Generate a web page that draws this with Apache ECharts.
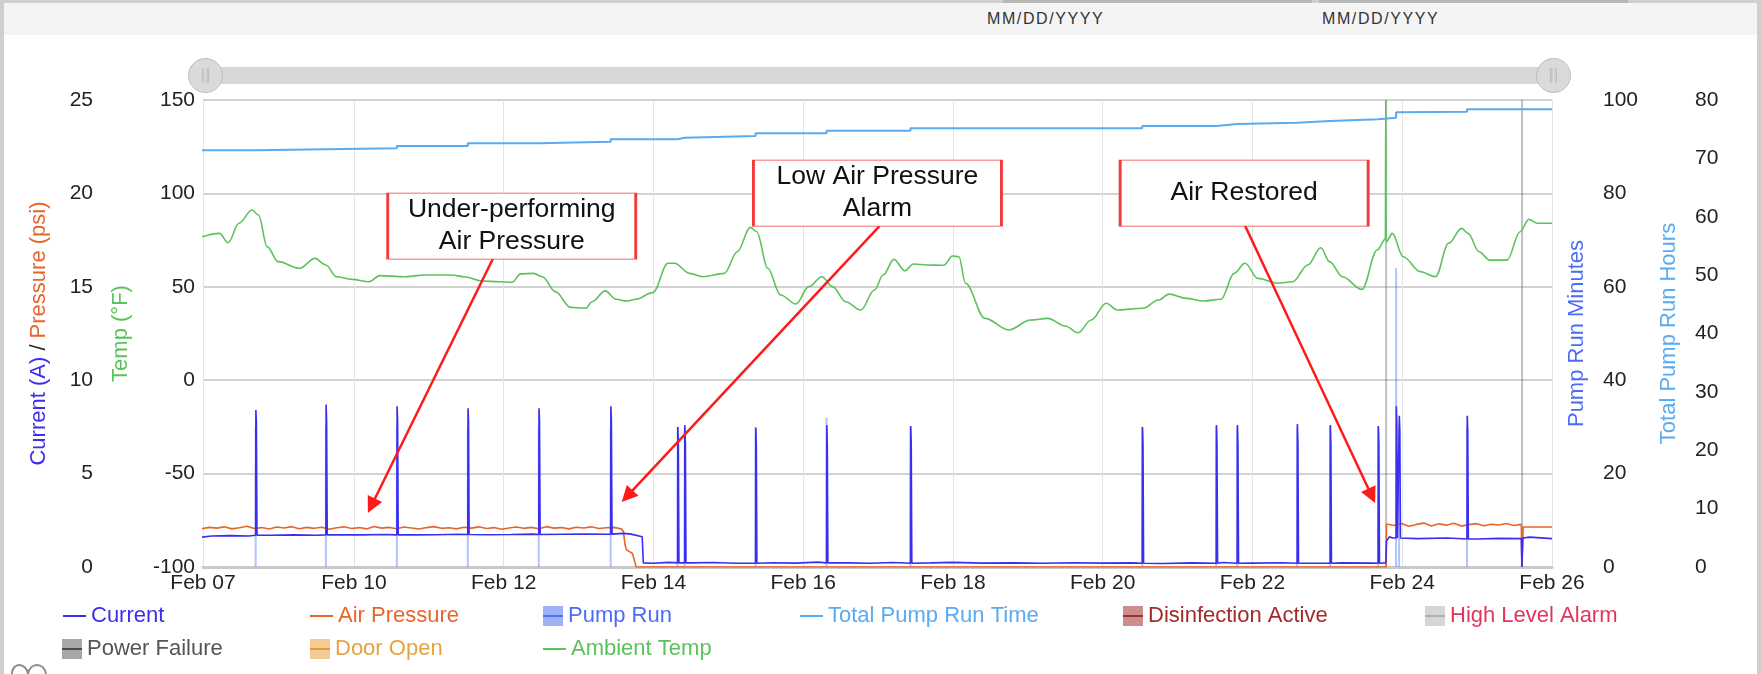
<!DOCTYPE html>
<html>
<head>
<meta charset="utf-8">
<script src="https://cdn.jsdelivr.net/npm/echarts@6/dist/echarts.min.js"></script>
<style>
html,body{margin:0;padding:0;background:#fff;width:1761px;height:674px;overflow:hidden;font-family:'Liberation Sans',Arial,sans-serif;}
#topband{position:absolute;left:0;top:0;width:1761px;height:35px;background:#f4f4f4;}
#bt{position:absolute;left:0;top:0;width:1761px;height:3px;background:#cfcfcf;}
#bl{position:absolute;left:0;top:0;width:4px;height:674px;background:#cfcfcf;}
#br{position:absolute;right:0;top:0;width:4px;height:674px;background:#cfcfcf;}
.inp{position:absolute;top:0;height:3px;background:#b8b8b8;}
.dt{position:absolute;top:10px;font-size:16px;color:#333;letter-spacing:1.6px;}
#logo{position:absolute;left:6px;top:658px;}
#chart{position:absolute;left:0;top:0;width:1761px;height:674px;}
</style>
</head>
<body>
<div id="topband"></div>
<div id="bt"></div>
<div class="inp" style="left:1003px;width:309px;"></div>
<div class="inp" style="left:1319px;width:309px;"></div>
<div class="dt" style="left:987px;">MM/DD/YYYY</div>
<div class="dt" style="left:1322px;">MM/DD/YYYY</div>
<div id="bl"></div>
<div id="br"></div>
<svg id="logo" width="50" height="16"><path d="M6,16 C6,4 20,4 22,16 M22,16 C24,4 38,4 40,16" fill="none" stroke="#8a8a8a" stroke-width="2"/></svg>
<div id="chart"></div>
<script>
// ---------- DATA (times are day-of-February, 2025) ----------
const xTickDays = [7.985, 10, 12, 14, 16, 18, 20, 22, 24, 26];

// pump run events: [day, currentPeak(A), currentShoulder(A), currentBase(A), pumpRunMinutes, totalHoursAfter]
const pumpEvents = [
  [8.688, 8.4, 7.8, 1.70, 30, 71.55],
  [9.626, 8.7, 7.8, 1.72, 30, 71.72],
  [10.574, 8.6, 7.8, 1.72, 30, 72.12],
  [11.521, 8.5, 7.8, 1.74, 30, 72.58],
  [12.469, 8.5, 7.8, 1.74, 30, 72.86],
  [13.429, 8.6, 7.8, 1.76, 30, 73.27],
  [14.323, 7.5, 6.6, 0.22, 30, 73.55],
  [14.417, 7.6, 6.6, 0.22, 30, 73.84],
  [15.364, 7.45, 6.6, 0.20, 30, 74.29],
  [16.312, 7.6, 6.6, 0.22, 32, 74.72],
  [17.433, 7.55, 6.6, 0.20, 30, 75.15],
  [20.528, 7.5, 6.6, 0.20, 30, 75.55],
  [21.516, 7.6, 6.6, 0.20, 30, 75.89],
  [21.796, 7.6, 6.6, 0.20, 30, 76.12],
  [22.597, 7.65, 6.6, 0.20, 30, 76.40],
  [23.037, 7.6, 6.6, 0.20, 30, 76.69],
  [23.678, 7.55, 6.6, 0.20, 30, 76.97],
  [23.918, 8.6, 7.6, 1.55, 64, 77.90],
  [23.958, 8.1, 7.3, 1.55, 30, 78.00],
  [24.865, 8.1, 7.3, 1.50, 30, 78.40]
];

const totalStart = [7.97, 71.40];
const totalEnd = [26.0, 78.40];

const currentBaseline = [
  [7.97,1.60],[8.10,1.66],[8.35,1.68],[8.60,1.66],[8.90,1.70],[9.20,1.72],[9.50,1.70],[9.80,1.73],
  [10.10,1.72],[10.40,1.74],[10.80,1.72],[11.10,1.73],[11.40,1.75],[11.80,1.73],[12.10,1.74],[12.40,1.76],
  [12.80,1.75],[13.10,1.76],[13.40,1.75],[13.60,1.80],[13.70,1.76],[13.85,1.62],[13.865,0.22],[14.0,0.20],
  [14.2,0.25],[14.5,0.22],[14.8,0.24],[15.1,0.20],[15.6,0.23],[15.9,0.21],[16.2,0.26],[16.6,0.22],
  [16.9,0.20],[17.2,0.24],[17.7,0.22],[18.0,0.25],[18.4,0.21],[18.8,0.22],[19.2,0.20],[19.6,0.23],
  [20.0,0.21],[20.4,0.22],[20.8,0.19],[21.2,0.22],[21.6,0.24],[22.0,0.21],[22.4,0.23],[22.8,0.20],
  [23.2,0.22],[23.6,0.21],[23.78,0.22],[23.79,1.40],[23.83,1.62],[23.87,1.55],[24.2,1.52],[24.6,1.55],
  [25.0,1.50],[25.3,1.53],[25.59,1.52],[25.598,0.0],[25.61,1.55],[25.7,1.60],[26.0,1.52]
];

const airPressure = [
  [7.97,2.05],[8.07,2.12],[8.17,2.08],[8.27,2.15],[8.37,2.04],[8.47,2.10],[8.57,2.18],[8.67,2.06],
  [8.77,2.11],[8.87,2.03],[8.97,2.14],[9.07,2.09],[9.17,2.16],[9.27,2.05],[9.37,2.12],[9.47,2.07],
  [9.57,2.13],[9.67,2.02],[9.77,2.10],[9.87,2.15],[9.97,2.06],[10.07,2.11],[10.17,2.04],[10.27,2.17],
  [10.37,2.08],[10.47,2.12],[10.57,2.05],[10.67,2.14],[10.77,2.09],[10.87,2.03],[10.97,2.11],[11.07,2.16],
  [11.17,2.07],[11.27,2.10],[11.37,2.04],[11.47,2.13],[11.57,2.08],[11.67,2.15],[11.77,2.06],[11.87,2.11],
  [11.97,2.02],[12.07,2.09],[12.17,2.14],[12.27,2.07],[12.37,2.12],[12.47,2.05],[12.57,2.16],[12.67,2.08],
  [12.77,2.11],[12.87,2.04],[12.97,2.13],[13.07,2.09],[13.17,2.15],[13.27,2.06],[13.37,2.10],[13.47,2.12],
  [13.57,2.04],[13.60,1.90],[13.62,1.20],[13.64,0.92],[13.68,0.82],[13.72,0.72],[13.75,0.30],[13.77,0.0],
  [23.785,0.0],[23.79,2.30],[23.89,2.22],[23.99,2.33],[24.09,2.18],[24.19,2.28],[24.29,2.35],[24.39,2.20],
  [24.49,2.31],[24.59,2.24],[24.69,2.34],[24.79,2.19],[24.89,2.27],[24.99,2.32],[25.09,2.21],[25.19,2.29],
  [25.29,2.25],[25.39,2.33],[25.49,2.22],[25.59,2.28],[25.598,0.0],[25.615,2.14],[26.0,2.14]
];

const ambientTemp = [
  [7.974,76.8],[8.205,78.6],[8.321,73.6],[8.465,84.0],[8.639,91.1],[8.726,88.4],[8.842,71.5],[8.987,63.5],
  [9.275,59.9],[9.478,65.2],[9.624,61.7],[9.768,55.4],[9.971,54.0],[10.202,52.7],[10.347,56.0],[10.665,55.4],
  [10.954,56.3],[11.301,56.3],[11.475,55.4],[11.707,53.1],[11.938,52.7],[12.111,52.4],[12.227,56.9],[12.401,57.2],
  [12.517,55.4],[12.690,47.4],[12.893,39.0],[13.096,38.5],[13.181,42.0],[13.356,47.8],[13.500,43.3],[13.644,42.4],
  [13.760,43.3],[13.993,46.9],[14.194,62.6],[14.281,62.6],[14.484,57.2],[14.657,55.4],[14.947,57.2],[15.120,68.8],
  [15.294,81.8],[15.380,79.5],[15.526,59.9],[15.699,45.6],[15.902,40.8],[16.076,50.1],[16.249,55.4],[16.393,50.1],
  [16.567,42.0],[16.769,37.6],[16.952,48.3],[17.068,56.3],[17.212,64.7],[17.357,58.6],[17.473,62.2],[17.646,61.7],
  [17.878,61.5],[17.994,66.5],[18.080,66.1],[18.167,51.9],[18.428,33.1],[18.746,26.9],[19.035,32.2],[19.267,33.1],
  [19.498,29.0],[19.672,25.4],[19.845,32.2],[20.048,41.2],[20.193,37.6],[20.540,38.5],[20.742,42.9],[20.887,46.1],
  [21.118,43.8],[21.350,42.4],[21.581,43.3],[21.755,57.2],[21.900,62.6],[22.073,54.5],[22.334,51.9],[22.536,52.7],
  [22.739,61.7],[22.912,70.9],[23.028,63.5],[23.202,55.4],[23.462,48.6],[23.665,69.7],[23.775,75.5],[23.780,150.0],
  [23.785,74.0],[23.867,78.6],[24.012,66.1],[24.243,58.1],[24.445,55.4],[24.619,73.3],[24.793,81.3],[24.880,78.6],
  [25.024,68.8],[25.169,64.3],[25.400,64.3],[25.574,79.5],[25.690,86.1],[25.806,84.0],[26.0,84.0]
];

const powerFailure = [[23.785, 1], [25.600, 1]];

// annotation text boxes and arrows, anchored in data space (day, amps)
const annotationBoxes = [
  {text: 'Under-performing\nAir Pressure', day: 12.108, val: 18.25},
  {text: 'Low Air Pressure\nAlarm', day: 16.992, val: 20.02},
  {text: 'Air Restored', day: 21.889, val: 20.02}
];
const annotationArrows = [
  {from: [11.855, 16.49], to: [10.234, 3.28]},
  {from: [17.019, 18.25], to: [13.650, 3.79]},
  {from: [21.903, 18.25], to: [23.592, 3.81]}
];

// ---------- helpers ----------
const MONTH0 = Date.UTC(2025, 1, 1);
const T = d => MONTH0 + (d - 1) * 86400000;
const MON = ['Jan','Feb','Mar','Apr','May','Jun','Jul','Aug','Sep','Oct','Nov','Dec'];
const FONT = "'Liberation Sans', Arial, sans-serif";

const C = {
  current: '#3b2ef0', pressure: '#e8652a', pump: '#4f72f5', total: '#5aaaf0',
  temp: '#5cc25c', dis: '#a3302f', high: '#e2355a', power: '#555555', door: '#e9a23f'
};

let currentPts = currentBaseline.map(p => [p[0], p[1]]);
pumpEvents.forEach(e => {
  currentPts.push([e[0], e[3]], [e[0] + 0.003, e[1]], [e[0] + 0.010, e[2]], [e[0] + 0.018, e[3]]);
});
currentPts.sort((a, b) => a[0] - b[0]);
const currentData = currentPts.map(p => [T(p[0]), p[1]]);
const pressureData = airPressure.map(p => [T(p[0]), p[1]]);
const tempData = ambientTemp.map(p => [T(p[0]), p[1]]);
const pumpData = pumpEvents.map(e => [T(e[0]), e[4]]);
const totalData = [[T(totalStart[0]), totalStart[1]]]
  .concat(pumpEvents.map(e => [T(e[0]), e[5]]))
  .concat([[T(totalEnd[0]), totalEnd[1]]]);
const powerData = powerFailure.map(p => [T(p[0]), p[1]]);
const xTicks = xTickDays.map(T);

const ROW1 = 605, ROW2 = 638;
const legendDefs = [
  {name: 'Current', kind: 'line', color: C.current, text: C.current, left: 63, top: ROW1},
  {name: 'Air Pressure', kind: 'line', color: C.pressure, text: C.pressure, left: 310, top: ROW1},
  {name: 'Pump Run', kind: 'box', color: 'rgba(79,114,245,0.55)', line: '#4f72f5', text: '#4a6cf7', left: 543, top: ROW1},
  {name: 'Total Pump Run Time', kind: 'line', color: C.total, text: C.total, left: 800, top: ROW1},
  {name: 'Disinfection Active', kind: 'box', color: 'rgba(163,48,47,0.55)', line: '#a3302f', text: '#a32a2a', left: 1123, top: ROW1},
  {name: 'High Level Alarm', kind: 'box', color: 'rgba(200,200,200,0.75)', line: '#b0b0b0', text: C.high, left: 1425, top: ROW1},
  {name: 'Power Failure', kind: 'box', color: 'rgba(110,110,110,0.6)', line: '#4a4a4a', text: '#555', left: 62, top: ROW2},
  {name: 'Door Open', kind: 'box', color: 'rgba(236,168,80,0.6)', line: '#e39a37', text: C.door, left: 310, top: ROW2},
  {name: 'Ambient Temp', kind: 'line', color: C.temp, text: C.temp, left: 543, top: ROW2}
];
const legends = [];
legendDefs.forEach(d => {
  const base = {
    left: d.left, top: d.top, padding: 0, orient: 'horizontal', selectedMode: false,
    textStyle: {color: d.text, fontSize: 22, fontFamily: FONT}
  };
  if (d.kind === 'line') {
    legends.push(Object.assign({}, base, {
      itemWidth: 23, itemHeight: 2,
      data: [{name: d.name, icon: 'rect', itemStyle: {color: d.color, borderWidth: 0}}]
    }));
  } else {
    legends.push(Object.assign({}, base, {
      itemWidth: 20, itemHeight: 20,
      data: [{name: d.name, icon: 'rect', itemStyle: {color: d.color, borderWidth: 0}}]
    }));
    legends.push(Object.assign({}, base, {
      itemWidth: 20, itemHeight: 2,
      textStyle: {color: 'rgba(0,0,0,0)', fontSize: 22, fontFamily: FONT},
      data: [{name: d.name, icon: 'rect', itemStyle: {color: d.line, borderWidth: 0}}]
    }));
  }
});

const chart = echarts.init(document.getElementById('chart'), null, {renderer: 'canvas'});
const labelStyle = {color: '#222', fontSize: 21, fontFamily: FONT};

const option = {
  animation: false,
  backgroundColor: 'transparent',
  textStyle: {fontFamily: FONT},
  grid: {left: 203, right: 209, top: 100, bottom: 107, containLabel: false, outerBoundsMode: 'none'},
  legend: legends,
  dataZoom: [{
    type: 'slider', xAxisIndex: 0, filterMode: 'none', start: 0, end: 100,
    left: 203, right: 208, top: 67, height: 17,
    showDetail: false, showDataShadow: false, brushSelect: false, moveHandleSize: 0,
    backgroundColor: '#d8d8d8', fillerColor: '#d8d8d8', borderColor: 'transparent', borderRadius: 8,
    dataBackground: {lineStyle: {opacity: 0}, areaStyle: {opacity: 0}},
    selectedDataBackground: {lineStyle: {opacity: 0}, areaStyle: {opacity: 0}},
    handleIcon: 'path://M0,-50 A50,50 0 1 1 0,50 A50,50 0 1 1 0,-50 Z M-9,-20 L-9,20 L-5,20 L-5,-20 Z M5,-20 L5,20 L9,20 L9,-20 Z',
    handleSize: '200%',
    handleStyle: {color: '#dadada', borderColor: '#bdbdbd', borderWidth: 1},
    emphasis: {handleStyle: {color: '#dadada', borderColor: '#bdbdbd'}}
  }],
  xAxis: {
    type: 'value', min: T(xTickDays[0]), max: T(xTickDays[xTickDays.length - 1]),
    axisLine: {show: true, lineStyle: {color: '#c9c9c9', width: 3}},
    axisTick: {show: false, customValues: xTicks},
    axisLabel: Object.assign({}, labelStyle, {
      margin: 6, customValues: xTicks, showMinLabel: true, showMaxLabel: true, hideOverlap: false,
      formatter: v => { const d = new Date(v); return MON[d.getUTCMonth()] + ' ' + String(d.getUTCDate()).padStart(2, '0'); }
    }),
    splitLine: {show: true, lineStyle: {color: '#e4e4e4', width: 1}}
  },
  yAxis: [
    {
      type: 'value', position: 'left', offset: 102, min: 0, max: 25, interval: 5,
      axisLine: {show: false}, axisTick: {show: false},
      axisLabel: Object.assign({}, labelStyle, {margin: 8}),
      splitLine: {show: true, lineStyle: {color: '#d2d2d2', width: 2}},
      name: '{a|Current (A)}{s| / }{b|Pressure (psi)}', nameLocation: 'middle', nameRotate: 90, nameGap: 51,
      nameMoveOverlap: false,
      nameTextStyle: {fontSize: 22, fontFamily: FONT, rich: {
        a: {color: C.current, fontSize: 22, fontFamily: FONT},
        s: {color: '#222', fontSize: 22, fontFamily: FONT},
        b: {color: C.pressure, fontSize: 22, fontFamily: FONT}}}
    },
    {
      type: 'value', position: 'left', offset: 0, min: -100, max: 150, interval: 50,
      axisLine: {show: false}, axisTick: {show: false},
      axisLabel: Object.assign({}, labelStyle, {margin: 8}),
      splitLine: {show: false},
      name: 'Temp (°F)', nameLocation: 'middle', nameRotate: 90, nameGap: 71, nameMoveOverlap: false,
      nameTextStyle: {color: C.temp, fontSize: 22, fontFamily: FONT}
    },
    {
      type: 'value', position: 'right', offset: 0, min: 0, max: 100, interval: 20,
      axisLine: {show: false}, axisTick: {show: false},
      axisLabel: Object.assign({}, labelStyle, {margin: 51}),
      splitLine: {show: false},
      name: 'Pump Run Minutes', nameLocation: 'middle', nameRotate: 90, nameGap: 14, nameMoveOverlap: false,
      nameTextStyle: {color: '#4a6cf7', fontSize: 22, fontFamily: FONT}
    },
    {
      type: 'value', position: 'right', offset: 100, min: 0, max: 80, interval: 10,
      axisLine: {show: false}, axisTick: {show: false},
      axisLabel: Object.assign({}, labelStyle, {margin: 43}),
      splitLine: {show: false},
      name: 'Total Pump Run Hours', nameLocation: 'middle', nameRotate: 90, nameGap: 6, nameMoveOverlap: false,
      nameTextStyle: {color: C.total, fontSize: 22, fontFamily: FONT}
    },
    {
      type: 'value', show: false, min: 0, max: 1, splitLine: {show: false}
    }
  ],
  series: [
    {name: 'Power Failure', type: 'bar', yAxisIndex: 4, data: powerData, barWidth: 2, barGap: '-100%',
      itemStyle: {color: 'rgba(100,100,100,0.4)'}, silent: true, z: 1},
    {name: 'Disinfection Active', type: 'line', yAxisIndex: 4, data: [], lineStyle: {color: '#a3302f'}, itemStyle: {color: '#a3302f'}},
    {name: 'High Level Alarm', type: 'line', yAxisIndex: 4, data: [], lineStyle: {color: '#bbbbbb'}, itemStyle: {color: '#bbbbbb'}},
    {name: 'Door Open', type: 'line', yAxisIndex: 4, data: [], lineStyle: {color: '#e39a37'}, itemStyle: {color: '#e39a37'}},
    {name: 'Pump Run', type: 'bar', yAxisIndex: 2, data: pumpData, barWidth: 2, barGap: '-100%',
      itemStyle: {color: 'rgba(80,125,250,0.45)'}, silent: true, z: 1},
    {name: 'Total Pump Run Time', type: 'line', yAxisIndex: 3, data: totalData, step: 'end',
      showSymbol: false, lineStyle: {color: C.total, width: 2}, itemStyle: {color: C.total}, silent: true},
    {name: 'Ambient Temp', type: 'line', yAxisIndex: 1, data: tempData, smooth: 0.35, smoothMonotone: 'x',
      showSymbol: false, lineStyle: {color: C.temp, width: 1.6}, itemStyle: {color: C.temp}, silent: true},
    {name: 'Air Pressure', type: 'line', yAxisIndex: 0, data: pressureData,
      showSymbol: false, lineStyle: {color: C.pressure, width: 1.6}, itemStyle: {color: C.pressure}, silent: true},
    {name: 'Current', type: 'line', yAxisIndex: 0, data: currentData, z: 3,
      showSymbol: false, lineStyle: {color: C.current, width: 1.6}, itemStyle: {color: C.current}, silent: true,
      markLine: {
        silent: true, animation: false, symbol: ['none', 'triangle'], symbolSize: 16,
        lineStyle: {color: '#ff1a1a', width: 2.5, type: 'solid'}, label: {show: false},
        emphasis: {disabled: true},
        data: annotationArrows.map(a => [{coord: [T(a.from[0]), a.from[1]]}, {coord: [T(a.to[0]), a.to[1]]}])
      },
      markPoint: {
        silent: true, animation: false, symbol: 'rect', symbolSize: [248, 66],
        itemStyle: {color: '#ffffff', borderColor: '#f23a3a', borderWidth: 1.5},
        label: {show: true, position: 'inside', color: '#111', fontSize: 26.5, lineHeight: 32, fontFamily: FONT,
          formatter: p => p.name},
        emphasis: {disabled: true},
        data: annotationBoxes.map(a => ({name: a.text, coord: [T(a.day), a.val]}))
      }
    }
  ]
};
chart.setOption(option);
</script>
</body>
</html>
